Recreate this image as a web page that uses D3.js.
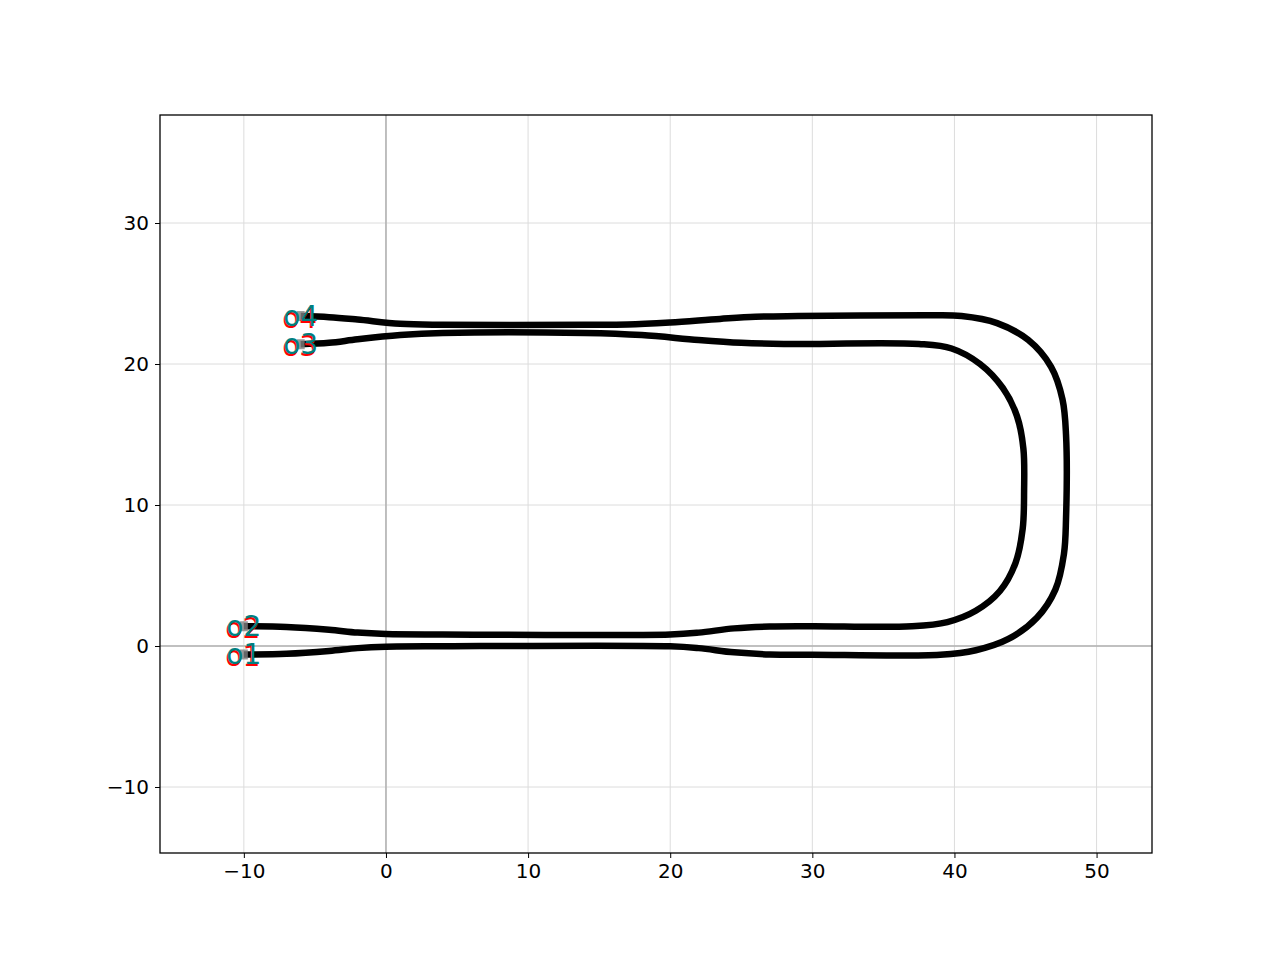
<!DOCTYPE html>
<html><head><meta charset="utf-8">
<script src="https://cdn.jsdelivr.net/npm/d3@7"></script>
<style>body{margin:0;background:#fff}</style>
</head><body>
<svg id="chart" width="1280" height="960"></svg>
<script>
const xTicks = [-10, 0, 10, 20, 30, 40, 50];
const yTicks = [-10, 0, 10, 20, 30];

// waveguide centerlines (um)
const outerPath = [[-10,-0.6],[-7,-0.55],[-4,-0.35],[-2,-0.15],[0,-0.05],[4,-0.02],[20,-0.02],[22,-0.15],[24.5,-0.45],[27,-0.6],[30,-0.62],[39,-0.62],[41.5,-0.3],[43.8,0.5],[45.8,2],[47.1,4],[47.7,6.5],[47.85,9],[47.85,15],[47.6,17.5],[46.8,19.8],[45.2,21.7],[43,22.9],[40.5,23.4],[38,23.45],[29,23.4],[26,23.35],[23.5,23.2],[20,22.95],[17,22.8],[14,22.78],[4,22.78],[1,22.85],[-2,23.15],[-4,23.32],[-6,23.4]];
const innerPath = [[-10,1.4],[-7,1.35],[-4,1.15],[-2,0.95],[0,0.85],[4,0.82],[20,0.82],[22,0.95],[24.5,1.25],[27,1.38],[30,1.4],[37,1.4],[39.5,1.7],[41.5,2.5],[43.2,3.9],[44.3,5.9],[44.8,8.3],[44.9,11],[44.85,14],[44.4,16.3],[43.4,18.3],[41.8,20],[39.8,21.1],[37.5,21.42],[28,21.42],[25,21.5],[22,21.7],[18,22.05],[14,22.2],[4,22.2],[1,22.05],[-2,21.75],[-4,21.5],[-6,21.4]];
const ports = [
  {name:"o1", x:-10, y:-0.6},
  {name:"o2", x:-10, y:1.4},
  {name:"o3", x:-6, y:21.4},
  {name:"o4", x:-6, y:23.4}
];

const svg = d3.select('#chart');
const margin = {top:115, right:128, bottom:107, left:160};
const W = 1280, H = 960;
const xScale = d3.scaleLinear().domain([-15.9, 53.9]).range([margin.left, W - margin.right]);
const yScale = d3.scaleLinear().domain([-14.68, 37.66]).range([H - margin.bottom, margin.top]);

svg.append('defs').append('clipPath').attr('id','clip')
  .append('rect').attr('x', margin.left).attr('y', margin.top)
  .attr('width', W - margin.left - margin.right).attr('height', H - margin.top - margin.bottom);

const plot = svg.append('g').attr('clip-path','url(#clip)');

// grid
plot.selectAll('.gx').data(xTicks).enter().append('line')
  .attr('x1', d => xScale(d)).attr('x2', d => xScale(d))
  .attr('y1', margin.top).attr('y2', H - margin.bottom)
  .attr('stroke', '#dcdcdc').attr('stroke-width', 1);
plot.selectAll('.gy').data(yTicks).enter().append('line')
  .attr('y1', d => yScale(d)).attr('y2', d => yScale(d))
  .attr('x1', margin.left).attr('x2', W - margin.right)
  .attr('stroke', '#dcdcdc').attr('stroke-width', 1);
plot.append('line').attr('x1', xScale(0)).attr('x2', xScale(0))
  .attr('y1', margin.top).attr('y2', H - margin.bottom).attr('stroke', '#b0b0b0').attr('stroke-width', 1.5);
plot.append('line').attr('y1', yScale(0)).attr('y2', yScale(0))
  .attr('x1', margin.left).attr('x2', W - margin.right).attr('stroke', '#b0b0b0').attr('stroke-width', 1.5);

const line = d3.line().x(d => xScale(d[0])).y(d => yScale(d[1])).curve(d3.curveCatmullRom.alpha(0.5));

[outerPath, innerPath].forEach(p => {
  plot.append('path').attr('d', line(p)).attr('fill','none')
    .attr('stroke','#000').attr('stroke-width', 6.5).attr('stroke-linejoin','round');
});

// ports
plot.selectAll('.port').data(ports).enter().append('rect')
  .attr('x', d => xScale(d.x) - 4).attr('y', d => yScale(d.y) - 5)
  .attr('width', 8).attr('height', 10).attr('fill', '#808080').attr('opacity', 0.8);
plot.selectAll('.lblr').data(ports).enter().append('text')
  .attr('x', d => xScale(d.x) - 1).attr('y', d => yScale(d.y) + 2)
  .attr('text-anchor','middle').attr('dominant-baseline','central')
  .attr('font-family','DejaVu Sans').attr('font-size', 28).attr('fill','#ff0000').text(d => d.name);
plot.selectAll('.lblt').data(ports).enter().append('text')
  .attr('x', d => xScale(d.x)).attr('y', d => yScale(d.y))
  .attr('text-anchor','middle').attr('dominant-baseline','central')
  .attr('font-family','DejaVu Sans').attr('font-size', 28).attr('fill','#008080').text(d => d.name);

// axes
const xAxis = d3.axisBottom(xScale).tickValues(xTicks).tickSize(5).tickPadding(6).tickFormat(d => d < 0 ? '\u2212' + Math.abs(d) : d);
const yAxis = d3.axisLeft(yScale).tickValues(yTicks).tickSize(5).tickPadding(6).tickFormat(d => d < 0 ? '\u2212' + Math.abs(d) : d);
const gx = svg.append('g').attr('transform', 'translate(0,' + (H - margin.bottom) + ')').call(xAxis);
const gy = svg.append('g').attr('transform', 'translate(' + margin.left + ',0)').call(yAxis);
[gx, gy].forEach(g => {
  g.select('.domain').remove();
  g.selectAll('text').attr('font-family','DejaVu Sans').attr('font-size', 20).attr('fill','#000');
  g.selectAll('line').attr('stroke','#000').attr('stroke-width', 1);
});
svg.append('rect').attr('x', margin.left).attr('y', margin.top)
  .attr('width', W - margin.left - margin.right).attr('height', H - margin.top - margin.bottom)
  .attr('fill','none').attr('stroke','#000').attr('stroke-width', 1.3);
</script>
</body></html>
